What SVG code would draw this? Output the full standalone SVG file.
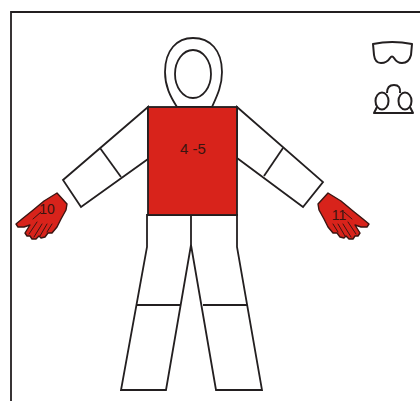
<svg xmlns="http://www.w3.org/2000/svg" width="420" height="401" viewBox="0 0 420 401">
  <style>
    .ln { fill: none; stroke: #231f20; stroke-width: 1.8; stroke-linejoin: miter; }
    .wh { fill: #ffffff; stroke: #231f20; stroke-width: 1.8; }
    .red { fill: #d8231b; stroke: #231f20; stroke-width: 1.8; }
    .glove { fill: #d8231b; stroke: #3a1512; stroke-width: 1.4; stroke-linejoin: round; }
    .seam { fill: none; stroke: #3a1512; stroke-width: 1; stroke-linecap: round; }
    .icon { fill: none; stroke: #231f20; stroke-width: 2; stroke-linejoin: round; }
    .lbl { font-family: "Liberation Sans", Arial, sans-serif; fill: #3a1510; text-anchor: middle; }
  </style>
  <defs>
    <g id="glove-shape">
      <path class="glove" d="M57,193 L67,204 L66,210 L61,219 L57,227 L52,233 L48,233 L45,237 L41,238 L39,236 L36,239 L32,239 L30,236 L27,236 L25,233 L30,225 L24,227 L18,227 L16,224 L22,219 L32,211 L44,201 Z"/>
      <path class="seam" d="M52,224 L47,232 M47,224 L40,236 M42,224 L34,237 M37,222 L29,234 M33,219 L41,212"/>
    </g>
  </defs>

  <rect width="420" height="401" fill="#ffffff"/>

  <!-- frame -->
  <path class="ln" d="M11,401 L11,12 L420,12"/>

  <!-- hood -->
  <g id="hood">
    <path class="wh" d="M177,107 C170,96 165,86 165,72 C165,50 177,38 193,38 C210,38 222,50 222,72 C222,86 217,96 212,107 Z"/>
    <ellipse class="ln" cx="193" cy="74" rx="18" ry="24"/>
  </g>

  <!-- sleeves -->
  <g id="left-arm">
    <path class="wh" d="M148,107 L63,180 L81,207 L148,159 Z"/>
    <path class="ln" d="M100,148 L121,177"/>
  </g>
  <g id="right-arm">
    <path class="wh" d="M237,107 L323,182 L303,207 L237,158 Z"/>
    <path class="ln" d="M283,148 L264,176"/>
  </g>

  <!-- trousers -->
  <g id="legs">
    <path class="wh" d="M147,215 L147,247 L121,390 L166,390 L191,245 L216,390 L262,390 L237,247 L237,215 Z"/>
    <path class="ln" d="M191,215 L191,245"/>
    <path class="ln" d="M137,305 L181,305 M203,305 L247,305"/>
  </g>

  <!-- torso -->
  <g id="torso">
    <rect class="red" x="148" y="107" width="89" height="108"/>
    <text class="lbl" x="193" y="154" font-size="15">4 -5</text>
  </g>

  <!-- gloves -->
  <g id="glove-left">
    <use href="#glove-shape"/>
    <text class="lbl" x="47" y="214" font-size="14">10</text>
  </g>
  <g id="glove-right">
    <use href="#glove-shape" transform="translate(385,0) scale(-1,1)"/>
    <text class="lbl" x="339" y="220" font-size="14">11</text>
  </g>

  <!-- goggles -->
  <g id="goggles">
    <path class="icon" d="M373,44 Q392,40 412,44 L411,55 Q409,63 402,63 Q397,63 394,58 Q392,55 390,58 Q387,63 381,63 Q375,63 374,55 Z"/>
  </g>

  <!-- respirator -->
  <g id="respirator">
    <path class="icon" d="M387,93 Q387,85 394,85 Q401,85 400,93"/>
    <ellipse class="icon" cx="382" cy="101" rx="6.5" ry="8.5"/>
    <ellipse class="icon" cx="405" cy="101" rx="6.5" ry="8.5"/>
    <path class="icon" d="M377,107 L374,113 L413,113 L410,107"/>
  </g>
</svg>
